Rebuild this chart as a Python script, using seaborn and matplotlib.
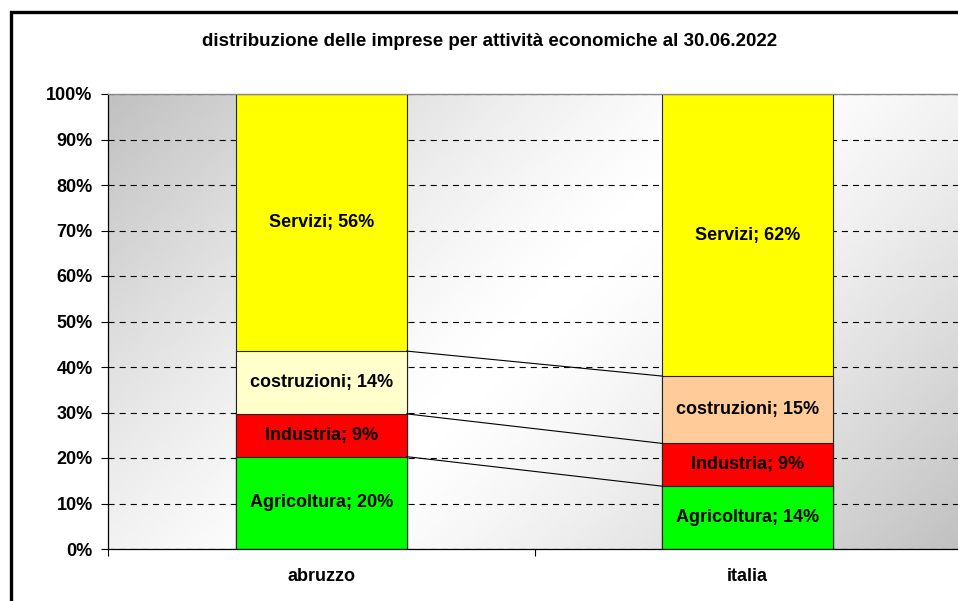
import numpy as np
import pandas as pd
import seaborn as sns
import matplotlib
matplotlib.use("Agg")
import matplotlib.pyplot as plt
from matplotlib.patches import Rectangle

# Data (percent shares, bottom to top)
regions = ["abruzzo", "italia"]
sectors = ["Agricoltura", "Industria", "costruzioni", "Servizi"]
abruzzo_vals = [20.3, 9.4, 13.8, 56.5]
italia_vals = [13.8, 9.4, 14.8, 62.0]

# colours per sector, one per region (costruzioni differs between the two bars)
sector_colors = {
    "Agricoltura": ["#00FF00", "#00FF00"],
    "Industria": ["#FF0000", "#FF0000"],
    "costruzioni": ["#FFFFCC", "#FFCC99"],
    "Servizi": ["#FFFF00", "#FFFF00"],
}

title = "distribuzione delle imprese per attività economiche al 30.06.2022"

sns.set_theme(style="white")
plt.rcParams["font.family"] = ["Liberation Sans", "DejaVu Sans"]
plt.rcParams["font.weight"] = "bold"
plt.rcParams["text.color"] = "black"
plt.rcParams["xtick.color"] = "black"
plt.rcParams["ytick.color"] = "black"

df = pd.DataFrame({"region": regions})
for i, s in enumerate(sectors):
    df[s] = [abruzzo_vals[i], italia_vals[i]]
cum = df[sectors].cumsum(axis=1)

fig = plt.figure(figsize=(9.58, 6.01), dpi=100)
ax = fig.add_axes([108 / 958, 52 / 601, 853 / 958, 455 / 601])

# diagonal gray-white-gray background of the plot area
nx, ny = 400, 200
u = np.linspace(0, 850, nx)
v = np.linspace(0, 455, ny)
U, V = np.meshgrid(u, v)
t = U + V  # row 0 drawn at top (origin upper)
d = np.abs(t - t.max() / 2) / (t.max() / 2)
shade = 1.0 - (63 / 255) * d ** 1.3
ax.imshow(shade, extent=(-0.5, 1.5, 0, 100), cmap="gray", vmin=0, vmax=1,
          aspect="auto", origin="upper", zorder=-1, interpolation="bilinear")

# stacked bars: draw cumulative totals from the top layer down
for s in reversed(sectors):
    sns.barplot(x=df["region"], y=cum[s], hue=df["region"],
                palette=sector_colors[s], saturation=1, legend=False,
                width=0.4, edgecolor="#222222", linewidth=0.8, ax=ax, zorder=2)

# connector lines between the segment tops
for s in sectors[:-1]:
    ax.plot([0.2, 0.8], [cum[s].iloc[0], cum[s].iloc[1]],
            color="black", lw=0.8, zorder=3)

# segment labels
for j in range(len(regions)):
    bottom = 0
    for s in sectors:
        val = df[s].iloc[j]
        ax.text(j, bottom + val / 2, f"{s}; {round(val)}%", ha="center",
                va="center", fontsize=13, fontweight="bold", color="black",
                zorder=4)
        bottom += val

ax.set_xlim(-0.5, 1.5)
ax.set_ylim(0, 100)
ax.set_yticks(np.arange(0, 101, 10))
ax.set_yticklabels([f"{v}%" for v in range(0, 101, 10)], fontsize=13,
                   fontweight="bold")
ax.set_xticks([0, 1])
ax.set_xticklabels(regions, fontsize=13, fontweight="bold")
ax.set_xticks([-0.5, 0.5, 1.5], minor=True)
ax.tick_params(axis="x", which="major", length=0, pad=14)
ax.tick_params(axis="x", which="minor", length=5, width=0.8, color="black",
               direction="out", bottom=True)
ax.tick_params(axis="y", length=5, width=0.8, color="black",
               direction="out", left=True, pad=6)
ax.set_xlabel("")
ax.set_ylabel("")

ax.set_axisbelow(True)
ax.yaxis.grid(True, color="black", lw=0.8, linestyle=(0, (5.5, 4.5)))
ax.xaxis.grid(False)
for side in ["left", "bottom"]:
    ax.spines[side].set_color("black")
    ax.spines[side].set_linewidth(0.9)
ax.spines["top"].set_color("#888888")
ax.spines["top"].set_linewidth(1.0)
ax.spines["right"].set_visible(False)

fig.text(0.511, 1 - 41 / 601, title, ha="center", va="center",
         fontsize=13.5, fontweight="bold", color="black")

# black outer frame (clipped at right and bottom, as in the source)
fig.add_artist(Rectangle((11 / 958, -0.1), 1.2, 1 - 12 / 601 + 0.1,
                         transform=fig.transFigure, fill=False,
                         edgecolor="black", lw=2.4, clip_on=False))

fig.savefig("out.png", dpi=100)
